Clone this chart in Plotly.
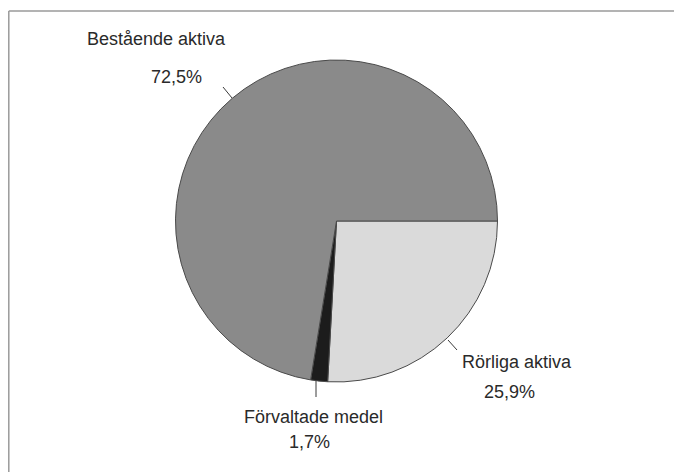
import plotly.graph_objects as go

labels = ["Rörliga aktiva", "Förvaltade medel", "Bestående aktiva"]
values = [25.9, 1.7, 72.5]
value_text = ["25,9%", "1,7%", "72,5%"]
colors = ["#dadada", "#1c1c1c", "#8a8a8a"]

# page body has an 8px default margin; size the figure to fit the window
OFF = 8
W, H = 682 - OFF, 472 - OFF
FONT = "Liberation Sans, Arial, sans-serif"

def px(x):
    return (x - OFF) / W

def py(y):
    return 1 - (y - OFF) / H

cx, cy, r = 336.5, 221, 161

fig = go.Figure(go.Pie(
    labels=labels,
    values=values,
    sort=False,
    direction="clockwise",
    rotation=90,
    marker=dict(colors=colors, line=dict(color="#4a4a4a", width=1)),
    textinfo="none",
    hoverinfo="label+percent",
    showlegend=False,
    domain=dict(x=[px(cx - r), px(cx + r)], y=[py(cy + r), py(cy - r)]),
))

# label positions (pixel coords of text centres) and leader lines
label_pos = [
    (156, 39, labels[2]), (176, 77, value_text[2]),
    (517, 362, labels[0]), (509, 392, value_text[0]),
    (313, 417, labels[1]), (309, 442, value_text[1]),
]
annotations = []
for (x, y, t) in label_pos:
    annotations.append(dict(
        x=px(x), y=py(y), xref="paper", yref="paper", text=t,
        showarrow=False, xanchor="center", yanchor="middle",
        font=dict(family=FONT, size=18, color="#2a2a2a"),
    ))

leaders = [((223, 87), (232, 98)), ((448, 340), (457, 350)), ((316, 380), (316, 397))]
shapes = []
for (x0, y0), (x1, y1) in leaders:
    shapes.append(dict(type="line", xref="paper", yref="paper",
                       x0=px(x0), y0=py(y0), x1=px(x1), y1=py(y1),
                       line=dict(color="#3a3a3a", width=1)))
# frame (top and left rules)
shapes.append(dict(type="line", xref="paper", yref="paper",
                   x0=px(8.8), y0=py(11), x1=1, y1=py(11),
                   line=dict(color="#9a9a9a", width=1.5)))
shapes.append(dict(type="line", xref="paper", yref="paper",
                   x0=px(8.8), y0=py(11), x1=px(8.8), y1=0,
                   line=dict(color="#9a9a9a", width=1.5)))

fig.update_layout(
    width=W, height=H,
    margin=dict(l=0, r=0, t=0, b=0),
    paper_bgcolor="white", plot_bgcolor="white",
    annotations=annotations, shapes=shapes,
)

fig.write_html("out.html")
